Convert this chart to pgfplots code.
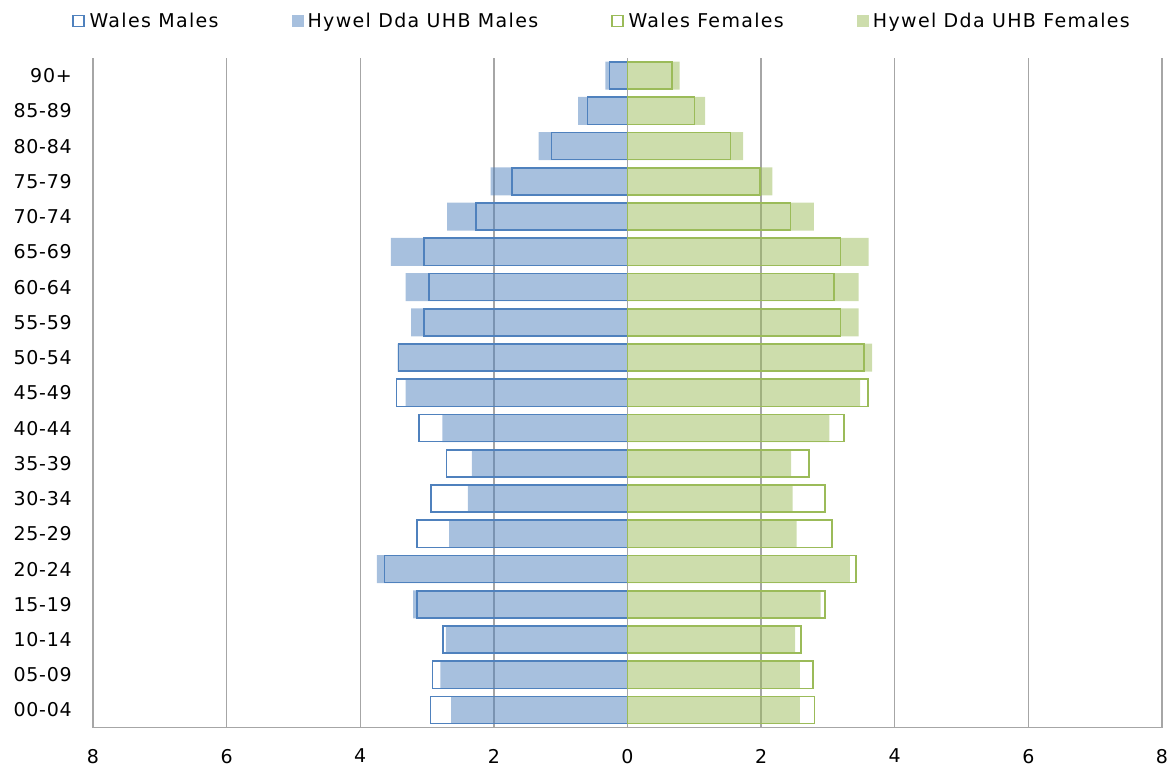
\documentclass[border=0pt]{standalone}
\usepackage{fontspec}
\setmainfont{DejaVu Sans}[LetterSpace=4]
\newfontfamily\legfont{DejaVu Sans}[LetterSpace=7]
\usepackage{pgfplots}
\usepackage{pgfplotstable}
\pgfplotsset{compat=1.18}
\definecolor{wblue}{HTML}{4F81BD}
\definecolor{wgreen}{HTML}{9BBB59}
\definecolor{gridgray}{HTML}{A6A6A6}
\definecolor{hblue}{HTML}{A7C0DE}
\definecolor{hgreen}{HTML}{CDDDAC}
\pgfplotstableread{
y wm hm wf hf
0 -2.95 -2.64 2.80 2.58
1 -2.92 -2.80 2.78 2.58
2 -2.76 -2.72 2.60 2.51
3 -3.15 -3.21 2.96 2.89
4 -3.64 -3.75 3.42 3.33
5 -3.15 -2.67 3.06 2.53
6 -2.94 -2.39 2.96 2.47
7 -2.71 -2.33 2.72 2.45
8 -3.12 -2.77 3.24 3.02
9 -3.46 -3.32 3.60 3.48
10 -3.43 -3.44 3.54 3.66
11 -3.05 -3.24 3.19 3.46
12 -2.97 -3.32 3.09 3.46
13 -3.05 -3.54 3.19 3.61
14 -2.27 -2.70 2.44 2.79
15 -1.73 -2.05 1.98 2.17
16 -1.14 -1.33 1.54 1.73
17 -0.60 -0.74 1.00 1.16
18 -0.27 -0.33 0.67 0.78
}\data
\begin{document}
\begin{tikzpicture}
\useasboundingbox (0,0) rectangle (1168bp,766bp);
\begin{axis}[
  at={(93bp,38.3bp)}, anchor=south west,
  width=1069bp, height=669.7bp, scale only axis,
  font=\fontsize{19bp}{23bp}\selectfont,
  xmin=-8, xmax=8, ymin=-0.5, ymax=18.5,
  xtick={-8,-6,...,8},
  xticklabels={8,6,4,2,0,2,4,6,8},
  ytick={0,...,18},
  yticklabels={00-04,05-09,10-14,15-19,20-24,25-29,30-34,35-39,40-44,45-49,50-54,55-59,60-64,65-69,70-74,75-79,80-84,85-89,90+},
  major tick length=0pt,
  tick style={draw=none},
  xticklabel style={inner sep=0pt, anchor=north, yshift=-21bp},
  yticklabel style={inner sep=0pt, anchor=east, xshift=-21bp},
  xmajorgrids,
  grid style={gridgray, line width=1.3bp},
  axis x line*=bottom, axis y line*=left,
  y axis line style={draw=none},
  x axis line style={gridgray, line width=1.5bp, -},
  legend image code/.code={\draw[#1] (0bp,-5.5bp) rectangle (11bp,5.5bp);},
  legend columns=4,
  legend style={draw=none, fill=none, inner sep=0pt, at={(-0.0196,1.0557)}, anchor=west,
    font=\fontsize{19bp}{23bp}\legfont,
    nodes={inner sep=0pt},
    /tikz/every even column/.append style={column sep=73bp},
    /tikz/every odd column/.append style={column sep=5bp}},
]
\addlegendimage{draw=wblue, fill=white, line width=1.3bp}
\addlegendentry{Wales Males}
\addlegendimage{draw=hblue, fill=hblue, line width=0.1bp}
\addlegendentry{Hywel Dda UHB Males}
\addlegendimage{draw=wgreen, fill=white, line width=1.3bp}
\addlegendentry{Wales Females}
\addlegendimage{draw=hgreen, fill=hgreen, line width=0.1bp}
\addlegendentry{Hywel Dda UHB Females}

\addplot[xbar, bar shift=0pt, bar width=0.79, draw=none, fill=wblue, fill opacity=0.5, forget plot] table[x=hm, y=y]{\data};
\addplot[xbar, bar shift=0pt, bar width=0.79, draw=none, fill=wgreen, fill opacity=0.5, forget plot] table[x=hf, y=y]{\data};
\addplot[xbar, bar shift=0pt, bar width=0.77, draw=wblue, fill=none, line width=1.6bp, forget plot] table[x=wm, y=y]{\data};
\addplot[xbar, bar shift=0pt, bar width=0.77, draw=wgreen, fill=none, line width=1.6bp, forget plot] table[x=wf, y=y]{\data};
\end{axis}
\end{tikzpicture}
\end{document}
